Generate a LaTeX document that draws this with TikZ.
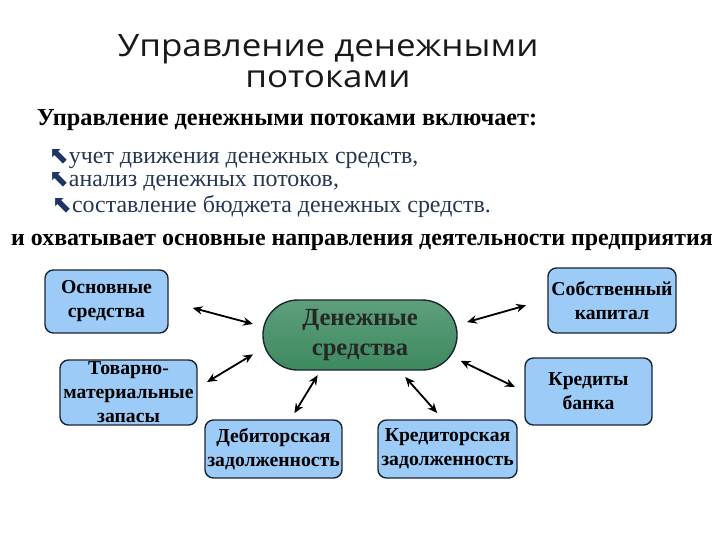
\documentclass[tikz,border=0pt]{standalone}
\usepackage{fontspec}
\setmainfont{Liberation Serif}
\newfontfamily\titlefont[FakeStretch=1.13]{Open Sans}
\newfontfamily\symfont{DejaVu Sans}
\usepackage{xcolor}
\usepackage{tikz}
\usetikzlibrary{arrows.meta, positioning}

\definecolor{boxblue}{HTML}{9BCBF6}
\definecolor{edgedark}{HTML}{1C2633}
\definecolor{cashtop}{HTML}{5E9F7C}
\definecolor{cashmid}{HTML}{8CC6A5}
\definecolor{cashbot}{HTML}{3D8A5F}
\definecolor{itemblue}{HTML}{263650}
\definecolor{bulletblue}{HTML}{1D3566}

\begin{document}
\begin{tikzpicture}[
    x=0.025cm, y=-0.025cm,
    asset/.style={rectangle, rounded corners=6pt, draw=edgedark, line width=1pt, fill=boxblue, align=center, inner sep=1pt, font=\fontsize{14}{17}\selectfont\bfseries},
    cashbox/.style={rectangle, rounded corners=0.875cm, draw=edgedark, line width=1pt, top color=cashtop, middle color=cashmid, bottom color=cashbot, align=center, minimum width=4.85cm, minimum height=1.75cm, font=\fontsize{17.5}{21}\selectfont\bfseries, text=black!85},
    item/.style={anchor=west, font=\fontsize{17}{20}\selectfont, text=itemblue},
    biarrow/.style={{Stealth[length=7pt,width=6pt]}-{Stealth[length=7pt,width=6pt]}, line width=1.3pt}
]
\useasboundingbox (0,0) rectangle (720,540);

% headings
\node[font=\titlefont\fontsize{22}{22.5}\selectfont, align=center, text=black!90] (title) at (328,61) {Управление денежными\\потоками};
\node[anchor=west, font=\fontsize{17.3}{20}\selectfont\bfseries] (intro) at (32,120) {Управление денежными потоками включает:};
\node[item] (i1) at (44,159) {{\symfont\fontsize{17}{17}\selectfont\color{bulletblue}⬉}учет движения денежных средств,};
\node[item] (i2) at (44,182) {{\symfont\fontsize{17}{17}\selectfont\color{bulletblue}⬉}анализ денежных потоков,};
\node[item] (i3) at (47,206) {{\symfont\fontsize{17}{17}\selectfont\color{bulletblue}⬉}составление бюджета денежных средств.};
\node[font=\fontsize{17}{20}\selectfont\bfseries] (scope) at (362,242) {и охватывает основные направления деятельности предприятия};

% centre and directions
\node[cashbox] (cash) at (360,335) {Денежные\\средства};
\node[asset, minimum width=3.075cm, minimum height=1.575cm] (fixed) at (106.5,301.5) {Основные\\средства};
\node[asset, minimum width=3.425cm, minimum height=1.625cm] (stock) at (128.5,392.5) {Товарно-\\материальные\\запасы};
\node[asset, minimum width=3.425cm, minimum height=1.45cm] (debt) at (273.5,449) {Дебиторская\\задолженность};
\node[asset, minimum width=3.475cm, minimum height=1.45cm] (cred) at (447.5,449) {Кредиторская\\задолженность};
\node[asset, minimum width=3.2cm, minimum height=1.625cm] (equity) at (612,300.5) {Собственный\\капитал};
\node[asset, minimum width=3.175cm, minimum height=1.675cm] (loans) at (588.5,391.5) {Кредиты\\банка};

\draw[biarrow, shorten <=0.62cm, shorten >=0.24cm] (fixed.east) -- (cash.175);
\draw[biarrow, shorten <=0.27cm, shorten >=0.27cm] (stock.4) -- (cash.188);
\draw[biarrow, shorten <=0.13cm, shorten >=0.18cm] (cash.222) -- (debt.60);
\draw[biarrow, shorten <=0.21cm, shorten >=0.21cm] (cash.318) -- (cred.99);
\draw[biarrow, shorten <=0.24cm, shorten >=0.55cm] (cash.6) -- (equity.179);
\draw[biarrow, shorten <=0.08cm, shorten >=0.26cm] (cash.346) -- (loans.west);
\end{tikzpicture}
\end{document}
